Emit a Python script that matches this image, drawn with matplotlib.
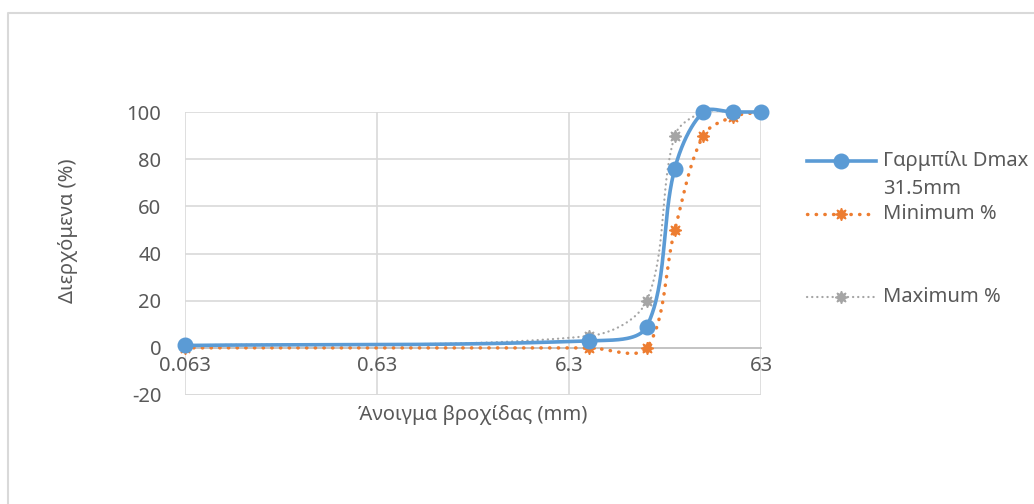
import numpy as np
import matplotlib
matplotlib.use("Agg")
import matplotlib.pyplot as plt
from matplotlib.lines import Line2D

# ---- data ----
sieve_mm = [0.063, 8, 16, 22.4, 31.5, 45, 63]
passing = [1, 3, 9, 76, 100, 100, 100]
minimum = [0, 0, 0, 50, 90, 98, 100]
maximum = [1, 5, 20, 90, 100, 100, 100]
series_labels = ["Γαρμπίλι Dmax\n31.5mm", "Minimum %", "Maximum %"]
x_ticks = [0.063, 0.63, 6.3, 63]
x_tick_labels = ["0.063", "0.63", "6.3", "63"]
y_ticks = [-20, 0, 20, 40, 60, 80, 100]
x_label = "Άνοιγμα βροχίδας (mm)"
y_label = "Διερχόμενα (%)"

BLUE = "#5B9BD5"
ORANGE = "#ED7D31"
GRAY = "#A5A5A5"
GRID = "#D9D9D9"
TXT = "#595959"

plt.rcParams['font.family'] = ['Noto Sans', 'DejaVu Sans']
plt.rcParams['axes.unicode_minus'] = False
FS = 14.5

W, H = 1034, 504
fig = plt.figure(figsize=(W / 100, H / 100), dpi=100)
ax = fig.add_axes([185 / W, 1 - 395 / H, (761 - 185) / W, (395 - 112) / H])
ax.set_xscale('log')
ax.set_xlim(0.063, 63)
ax.set_ylim(-20, 100)
ax.set_xticks(x_ticks)
ax.set_xticklabels(x_tick_labels)
ax.xaxis.set_minor_locator(matplotlib.ticker.NullLocator())
ax.set_yticks(y_ticks)
ax.grid(True, color=GRID, lw=1.2)
ax.set_axisbelow(True)
for s in ['left', 'right', 'top']:
    ax.spines[s].set_visible(False)
ax.spines['bottom'].set_position(('data', 0))
ax.spines['bottom'].set_color("#BFBFBF")
ax.spines['bottom'].set_linewidth(1.2)
ax.tick_params(axis='both', length=0, labelsize=FS, colors=TXT)
ax.tick_params(axis='y', pad=17)
ax.tick_params(axis='x', pad=6)
ax.axhline(-20, color=GRID, lw=1.2, zorder=0.5)


def smooth(xs, ys, n=60):
    """Excel-like smoothed curve computed in display space."""
    fig.canvas.draw()
    P = ax.transData.transform(np.column_stack([xs, ys]))
    m = len(P)
    out = [P[0]]
    for i in range(m - 1):
        p1, p2 = P[i], P[i + 1]
        p0 = P[i - 1] if i > 0 else p1
        p3 = P[i + 2] if i + 2 < m else p2
        d01 = np.linalg.norm(p1 - p0)
        d12 = np.linalg.norm(p2 - p1)
        d23 = np.linalg.norm(p3 - p2)
        f1 = d12 / (d01 + d12) if d01 + d12 > 0 else 0
        f2 = d12 / (d12 + d23) if d12 + d23 > 0 else 0
        c1 = p1 + (p2 - p0) * f1 / 3
        c2 = p2 - (p3 - p1) * f2 / 3
        t = np.linspace(0, 1, n)[1:, None]
        seg = ((1 - t) ** 3) * p1 + 3 * ((1 - t) ** 2) * t * c1 + 3 * (1 - t) * t ** 2 * c2 + t ** 3 * p2
        out.extend(seg)
    D = ax.transData.inverted().transform(np.array(out))
    return D[:, 0], D[:, 1]


star = (8, 1, 0)

gx, gy = smooth(sieve_mm, maximum)
ax.plot(gx, gy, color=GRAY, lw=1.6, linestyle=(0, (0.1, 2.2)), dash_capstyle='round', zorder=3, clip_on=False)
ax.plot(sieve_mm, maximum, linestyle='none', marker=star, ms=9, color=GRAY, mec=GRAY, zorder=4, clip_on=False)

ox, oy = smooth(sieve_mm, minimum)
ax.plot(ox, oy, color=ORANGE, lw=2.5, linestyle=(0, (0.1, 2.4)), dash_capstyle='round', zorder=3, clip_on=False)
ax.plot(sieve_mm, minimum, linestyle='none', marker=star, ms=9, color=ORANGE, mec=ORANGE, zorder=4, clip_on=False)

bx, by = smooth(sieve_mm, passing)
ax.plot(bx, by, color=BLUE, lw=2.6, solid_capstyle='round', zorder=5, clip_on=False)
ax.plot(sieve_mm, passing, linestyle='none', marker='o', ms=10.5, color=BLUE, mec=BLUE, zorder=6, clip_on=False)

fig.text(473 / W, 1 - 415 / H, x_label, ha='center', va='center', fontsize=FS, color=TXT)
fig.text(68 / W, 1 - 231 / H, y_label, rotation=90, ha='center', va='center', fontsize=FS, color=TXT)

# legend (manual)
leg_y = [161, 214, 297]
text_y = [175, 214, 297]
styles = [
    dict(color=BLUE, lw=2.6, linestyle='-', marker='o', ms=10.5),
    dict(color=ORANGE, lw=2.5, linestyle=(0, (0.1, 2.4)), marker=star, ms=9),
    dict(color=GRAY, lw=1.6, linestyle=(0, (0.1, 2.2)), marker=star, ms=9),
]
for yy, ty, st, lab in zip(leg_y, text_y, styles, series_labels):
    yf = 1 - yy / H
    fig.add_artist(Line2D([807 / W, 876 / W], [yf, yf], transform=fig.transFigure, color=st['color'],
                          lw=st['lw'], linestyle=st['linestyle'], dash_capstyle='round'))
    fig.add_artist(Line2D([841 / W], [yf], transform=fig.transFigure, linestyle='none', marker=st['marker'],
                          ms=st['ms'], color=st['color'], mec=st['color']))
    fig.text(883 / W, 1 - ty / H, lab, ha='left', va='center', fontsize=FS, color=TXT, linespacing=1.5)

# chart border
fig.add_artist(Line2D([8 / W, 8 / W, 1.0], [0, 1 - 13 / H, 1 - 13 / H], transform=fig.transFigure, color=GRID, lw=1.5))

fig.savefig("out.png", dpi=100)
